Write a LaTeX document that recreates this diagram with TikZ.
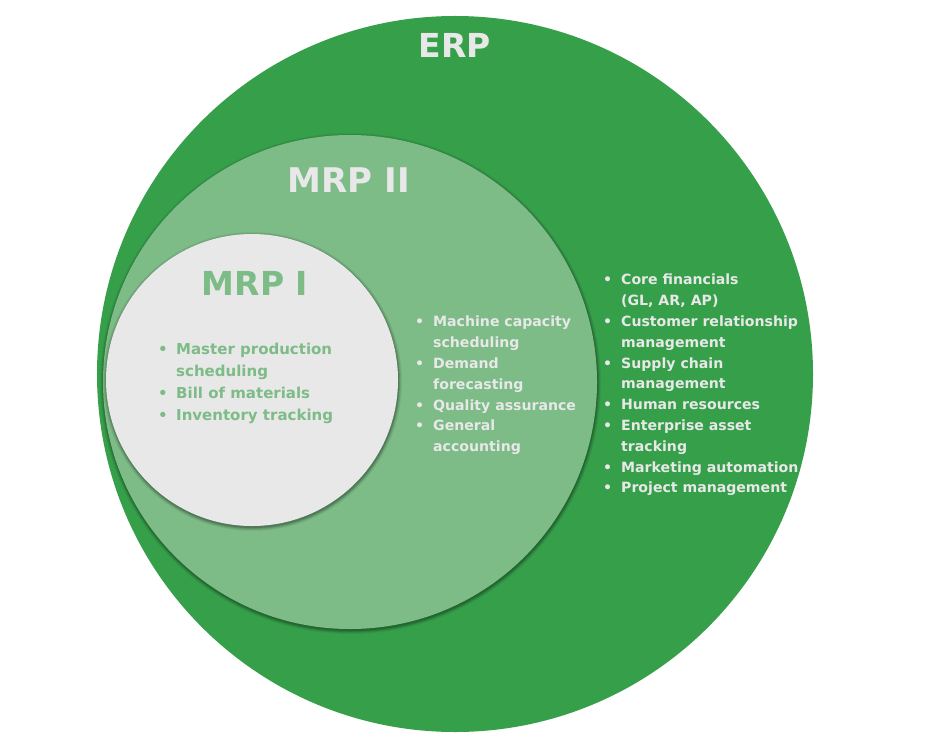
\documentclass[tikz,border=0pt]{standalone}
\usepackage{fontspec}
\setmainfont{DejaVu Sans}
\definecolor{erpgreen}{HTML}{369F4A}
\definecolor{mrpgreen}{HTML}{7DBB87}
\definecolor{palegray}{HTML}{E8E8E8}
\newcommand{\bl}{\makebox[18bp][l]{•}}
\newcommand{\cl}{\hspace*{18bp}}
\begin{document}
\begin{tikzpicture}[x=1bp,y=-1bp,
  disc/.style={circle, inner sep=0pt, minimum size=#1},
  heading/.style={font=\fontsize{33bp}{38bp}\selectfont\bfseries, inner sep=0pt},
  itemlist/.style={font=\fontsize{14.1bp}{20.8bp}\selectfont\bfseries, align=left, anchor=north west, inner sep=0pt}]
\useasboundingbox (0,0) rectangle (945,747);
% ERP circle
\node[disc=716bp, fill=erpgreen] (erp) at (455,374) {};
% shadow of MRP II
\foreach \r/\o in {250.5/0.05,249.5/0.08,248.5/0.12,247.5/0.14}{
  \fill[black, opacity=\o] (350.5,383.5) circle (\r);
}
\node[disc=494bp, fill=mrpgreen] (mrpii) at (350,382) {};
% shadow of MRP I
\foreach \r/\o in {149.5/0.05,148.5/0.08,147.5/0.12,146.5/0.14}{
  \fill[black, opacity=\o] (252.5,381.5) circle (\r);
}
\node[disc=292bp, fill=palegray] (mrpi) at (252,380) {};
% headings
\node[heading, text=palegray] (erph) at (455,45) {ERP};
\node[heading, text=palegray, font=\fontsize{34bp}{38bp}\selectfont\bfseries] (mrpiih) at (349,180) {MRP II};
\node[heading, text=mrpgreen] (mrpih) at (255,283) {MRP I};
% lists
\node[itemlist, text=mrpgreen, font=\fontsize{15bp}{22bp}\selectfont\bfseries] (mrpilist) at (158,343) {\bl Master production\\ \cl scheduling\\ \bl Bill of materials\\ \bl Inventory tracking};
\node[itemlist, text=palegray] (mrpiilist) at (415,316) {\bl Machine capacity\\ \cl scheduling\\ \bl Demand\\ \cl forecasting\\ \bl Quality assurance\\ \bl General\\ \cl accounting};
\node[itemlist, text=palegray] (erplist) at (603,274) {\bl Core financials\\ \cl (GL, AR, AP)\\ \bl Customer relationship\\ \cl management\\ \bl Supply chain\\ \cl management\\ \bl Human resources\\ \bl Enterprise asset\\ \cl tracking\\ \bl Marketing automation\\ \bl Project management};
\end{tikzpicture}
\end{document}
